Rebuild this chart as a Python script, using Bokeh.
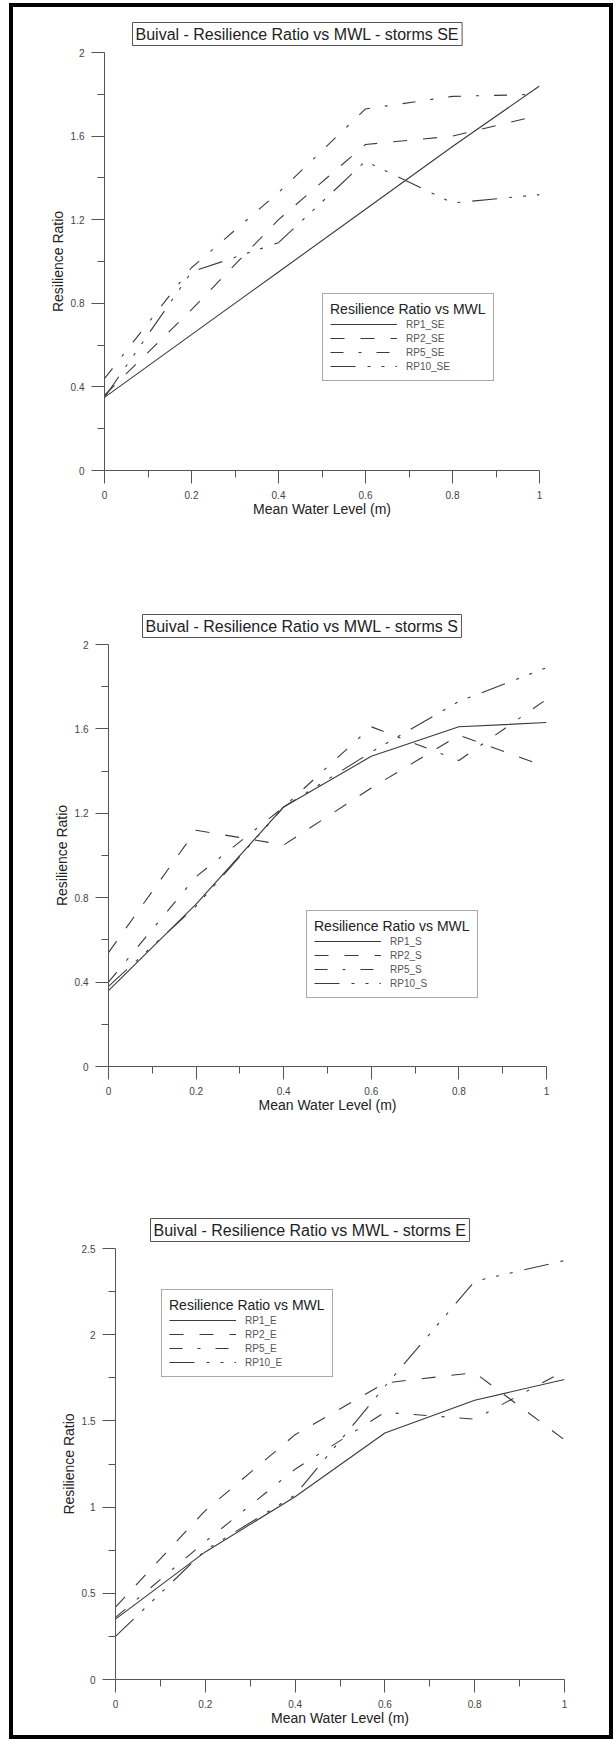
from bokeh.plotting import figure
from bokeh.models import Range1d, FixedTicker, Title, Legend, LegendItem
from bokeh.layouts import column
from bokeh.embed import file_html
from bokeh.resources import INLINE

# ---------------- data ----------------
mwl = [0.0, 0.2, 0.4, 0.6, 0.8, 1.0]

rp1_se = [0.35, 0.65, 0.95, 1.25, 1.55, 1.84]
rp2_se = [0.36, 0.77, 1.20, 1.56, 1.60, 1.70]
rp5_se = [0.44, 0.97, 1.33, 1.73, 1.79, 1.80]
rp10_se = [0.35, 0.95, 1.09, 1.48, 1.28, 1.32]

rp1_s = [0.36, 0.77, 1.23, 1.47, 1.61, 1.63]
rp2_s = [0.54, 1.12, 1.05, 1.32, 1.57, 1.42]
rp5_s = [0.40, 0.90, 1.23, 1.61, 1.45, 1.74]
rp10_s = [0.38, 0.76, 1.23, 1.49, 1.73, 1.89]

rp1_e = [0.35, 0.74, 1.06, 1.43, 1.62, 1.74]
rp2_e = [0.42, 0.98, 1.42, 1.72, 1.78, 1.39]
rp5_e = [0.36, 0.80, 1.22, 1.55, 1.51, 1.79]
rp10_e = [0.25, 0.75, 1.07, 1.70, 2.31, 2.43]

names_se = ["RP1_SE", "RP2_SE", "RP5_SE", "RP10_SE"]
names_s = ["RP1_S", "RP2_S", "RP5_S", "RP10_S"]
names_e = ["RP1_E", "RP2_E", "RP5_E", "RP10_E"]

title_se = "Buival - Resilience Ratio vs MWL - storms SE"
title_s = "Buival - Resilience Ratio vs MWL - storms S"
title_e = "Buival - Resilience Ratio vs MWL - storms E"
legend_title = "Resilience Ratio vs MWL"
x_label = "Mean Water Level (m)"
y_label = "Resilience Ratio"

x_ticks = [0.0, 0.2, 0.4, 0.6, 0.8, 1.0]
x_tick_labels = ["0", "0.2", "0.4", "0.6", "0.8", "1"]
x_minor = [0.1, 0.3, 0.5, 0.7, 0.9]

y_ticks_2 = [0.0, 0.4, 0.8, 1.2, 1.6, 2.0]
y_tick_labels_2 = ["0", "0.4", "0.8", "1.2", "1.6", "2"]
y_minor_2 = [0.2, 0.6, 1.0, 1.4, 1.8]

y_ticks_25 = [0.0, 0.5, 1.0, 1.5, 2.0, 2.5]
y_tick_labels_25 = ["0", "0.5", "1", "1.5", "2", "2.5"]
y_minor_25 = [0.25, 0.75, 1.25, 1.75, 2.25]

# ---------------- styles ----------------
DASHES = ["solid", "14 16", "13 15 3 15", "25 12 3 11 3 11 3 12"]
LINE_COLOR = "#3a3a3a"
FONT = "Liberation Sans"


def make_chart(height, ymax, yt, ytl, ym, series, names, title, title_offset,
               legend_loc, borders):
    left, right, top, bottom = borders
    p = figure(width=596, height=height, x_range=Range1d(0, 1),
               y_range=Range1d(0, ymax), output_backend="svg",
               toolbar_location=None, title=None, frame_align=False,
               min_border_left=left, min_border_right=right,
               min_border_top=top, min_border_bottom=bottom)
    p.outline_line_color = None
    p.grid.visible = False
    p.background_fill_color = "white"
    p.border_fill_color = "white"

    p.xaxis.ticker = FixedTicker(ticks=x_ticks, minor_ticks=x_minor)
    p.xaxis.major_label_overrides = dict(zip(x_ticks, x_tick_labels))
    p.yaxis.ticker = FixedTicker(ticks=yt, minor_ticks=ym)
    p.yaxis.major_label_overrides = dict(zip(yt, ytl))
    p.xaxis.axis_label = x_label
    p.yaxis.axis_label = y_label

    for ax in (p.xaxis[0], p.yaxis[0]):
        ax.axis_line_color = "#555555"
        ax.major_tick_line_color = "#555555"
        ax.minor_tick_line_color = "#555555"
        ax.major_tick_out = 13
        ax.major_tick_in = 0
        ax.minor_tick_out = 7
        ax.minor_tick_in = 0
        ax.major_label_text_font = FONT
        ax.major_label_text_font_size = "10px"
        ax.major_label_text_color = "#444444"
        ax.major_label_standoff = 7
        ax.axis_label_text_font = FONT
        ax.axis_label_text_font_size = "14px"
        ax.axis_label_text_font_style = "normal"
        ax.axis_label_text_color = "#222222"
    p.xaxis.axis_label_standoff = -1
    p.yaxis.axis_label_standoff = 2

    items = []
    for ys, nm, dash in zip(series, names, DASHES):
        r = p.line(mwl, ys, line_color=LINE_COLOR, line_width=1.1, line_dash=dash)
        items.append(LegendItem(label=nm, renderers=[r]))

    legend = Legend(items=items, title=legend_title, location=legend_loc,
                    title_text_font=FONT, title_text_font_size="14px",
                    title_text_font_style="normal", title_text_color="#222222",
                    title_standoff=0,
                    label_text_font=FONT, label_text_font_size="10px",
                    label_text_color="#555555",
                    glyph_width=67, glyph_height=14, label_height=14,
                    label_standoff=9, spacing=0, padding=7, margin=0,
                    border_line_color="#555555", border_line_width=1,
                    background_fill_color="white", background_fill_alpha=1)
    p.add_layout(legend)

    p.add_layout(Title(text=title, align="left", offset=title_offset,
                       standoff=14, text_font=FONT, text_font_size="16px",
                       text_font_style="normal", text_color="#222222",
                       border_line_color="#555555", border_line_width=1,
                       background_fill_color="white", padding=3), "above")
    return p


p1 = make_chart(553, 2.0, y_ticks_2, y_tick_labels_2, y_minor_2,
                [rp1_se, rp2_se, rp5_se, rp10_se], names_se, title_se,
                28, (218, 89), (91, 70, 45, 90))
p2 = make_chart(590, 2.0, y_ticks_2, y_tick_labels_2, y_minor_2,
                [rp1_s, rp2_s, rp5_s, rp10_s], names_s, title_s,
                34, (198, 68), (95, 63, 84, 84))
p3 = make_chart(585, 2.5, y_ticks_25, y_tick_labels_25, y_minor_25,
                [rp1_e, rp2_e, rp5_e, rp10_e], names_e, title_e,
                35, (46, 302), (102, 45, 98, 56))

layout = column(p1, p2, p3, styles={"border": "4px solid black"},
                margin=(3, 0, 0, 9))

open("out.html", "w").write(file_html(layout, INLINE))
